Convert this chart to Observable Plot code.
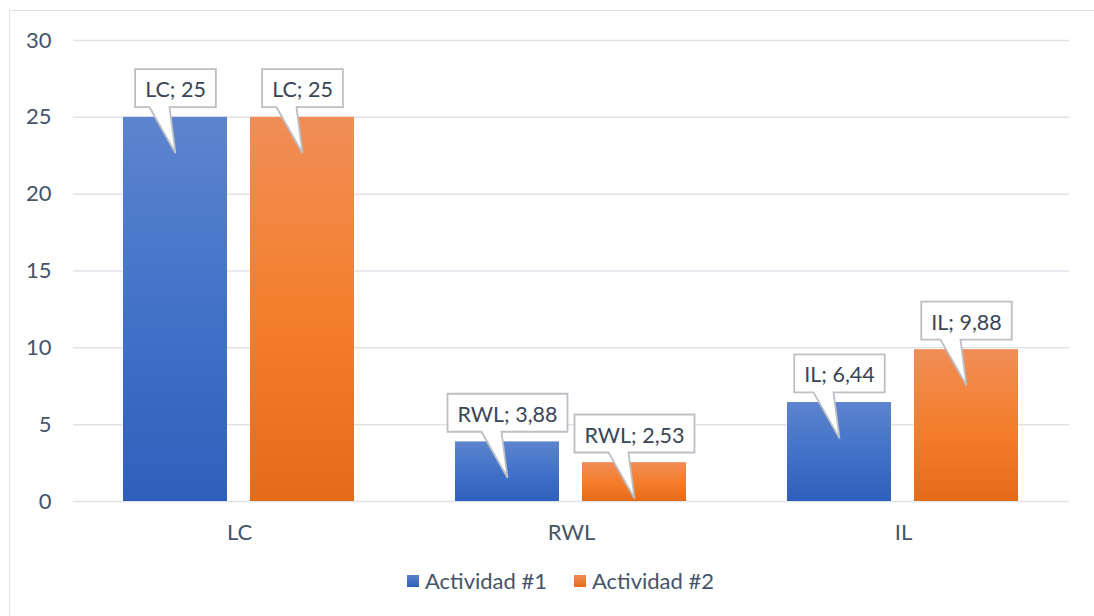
<!DOCTYPE html>
<html>
<head>
<meta charset="utf-8">
<script src="https://cdn.jsdelivr.net/npm/d3@7"></script>
<script src="https://cdn.jsdelivr.net/npm/@observablehq/plot@0.6"></script>
<style>
  html, body { margin: 0; padding: 0; background: #fff; }
  body { width: 1094px; height: 616px; position: relative; overflow: hidden; font-family: Lato, sans-serif; }
  .frame { position: absolute; left: 9px; top: 10px; width: 1100px; height: 620px; border: 1.5px solid #dde1e6; box-sizing: border-box; }
  #chart { position: absolute; left: 0; top: 0; }
  .legend { position: absolute; left: 407px; top: 567px; display: flex; align-items: center; font-size: 22px; color: #44546a; white-space: nowrap; }
  .legend .item { display: flex; align-items: center; margin-right: 27px; }
  .legend .swatch { width: 12px; height: 12px; margin-right: 6px; }
</style>
</head>
<body>
<div class="frame"></div>
<div id="chart"></div>
<div class="legend" id="legend"></div>
<script>
// Clustered bar chart: LC, RWL and IL for two activities
const categories = ["LC", "RWL", "IL"];
const series = ["Actividad #1", "Actividad #2"];
const actividad1 = [25, 3.88, 6.44];
const actividad2 = [25, 2.53, 9.88];
const yTicks = [0, 5, 10, 15, 20, 25, 30];

// gradient stops per series (top → bottom)
const gradients = [
  {id: "grad-a1", swatch: "linear-gradient(#5b82cc, #2f60bc)", stops: ["#5d84ce", "#4272c8", "#2e5fbb"]},
  {id: "grad-a2", swatch: "linear-gradient(#f08c56, #e76c1a)", stops: ["#f08d57", "#f47f2c", "#e66b19"]}
];

const records = categories.flatMap((cat, i) => [
  {cat, serie: series[0], value: actividad1[i]},
  {cat, serie: series[1], value: actividad2[i]}
]);

const fmt = v => String(v).replace(".", ",");

const plot = Plot.plot({
  width: 1094,
  height: 560,
  marginLeft: 73,
  marginRight: 25,
  marginTop: 40,
  marginBottom: 59,
  style: {fontFamily: "Lato, sans-serif", fontSize: "22px", color: "#44546a", background: "transparent"},
  facet: {data: records, x: "cat"},
  fx: {domain: categories, padding: 0, label: null, tickSize: 0, tickPadding: 23, axis: "bottom"},
  x: {domain: series, paddingInner: 0.18, paddingOuter: 0.39, axis: null},
  y: {domain: [0, 30], ticks: yTicks, tickSize: 0, tickPadding: 22, label: null},
  marks: [
    Plot.ruleY(yTicks, {stroke: "#dfe3e8", strokeWidth: 1.5}),
    Plot.barY(records, {filter: d => d.serie === series[0], x: "serie", y: "value", fill: "url(#grad-a1)"}),
    Plot.barY(records, {filter: d => d.serie === series[1], x: "serie", y: "value", fill: "url(#grad-a2)"}),
    Plot.text(records, {
      x: "serie", y: "value",
      text: d => `${d.cat}; ${fmt(d.value)}`,
      dy: -27, fill: "#3a4557", fontSize: 21.5
    })
  ]
});

document.getElementById("chart").append(plot);

// vertical gradients for the bars
const defs = d3.select(plot).insert("defs", ":first-child");
for (const g of gradients) {
  const lg = defs.append("linearGradient").attr("id", g.id).attr("x1", 0).attr("y1", 0).attr("x2", 0).attr("y2", 1);
  g.stops.forEach((c, i) => lg.append("stop").attr("offset", i / (g.stops.length - 1)).attr("stop-color", c));
}

// callout boxes behind each label, with a pointer into its bar
const boxH = 38, padX = 10, pointerDepth = 38, gap = 8;
plot.querySelectorAll('g[aria-label="text"] text').forEach(t => {
  const b = t.getBBox();
  const cx = b.x + b.width / 2;
  const cy = b.y + b.height / 2 - 1;
  const w = b.width + 2 * padX;
  const l = cx - w / 2, r = cx + w / 2, top = cy - boxH / 2, bot = cy + boxH / 2;
  const tipY = bot + gap + pointerDepth;
  const path = document.createElementNS("http://www.w3.org/2000/svg", "path");
  path.setAttribute("d", `M${l},${top}H${r}V${bot}H${cx - 6}L${cx},${tipY}L${cx - 26},${bot}H${l}Z`);
  path.setAttribute("fill", "#fff");
  path.setAttribute("stroke", "#bcbfc3");
  path.setAttribute("stroke-width", 1.8);
  if (t.getAttribute("transform")) path.setAttribute("transform", t.getAttribute("transform"));
  t.parentNode.insertBefore(path, t);
});

// legend
const legend = document.getElementById("legend");
gradients.forEach((g, i) => {
  const item = document.createElement("div");
  item.className = "item";
  const sw = document.createElement("span");
  sw.className = "swatch";
  sw.style.background = g.swatch;
  const label = document.createElement("span");
  label.textContent = series[i];
  item.append(sw, label);
  legend.append(item);
});
</script>
</body>
</html>
